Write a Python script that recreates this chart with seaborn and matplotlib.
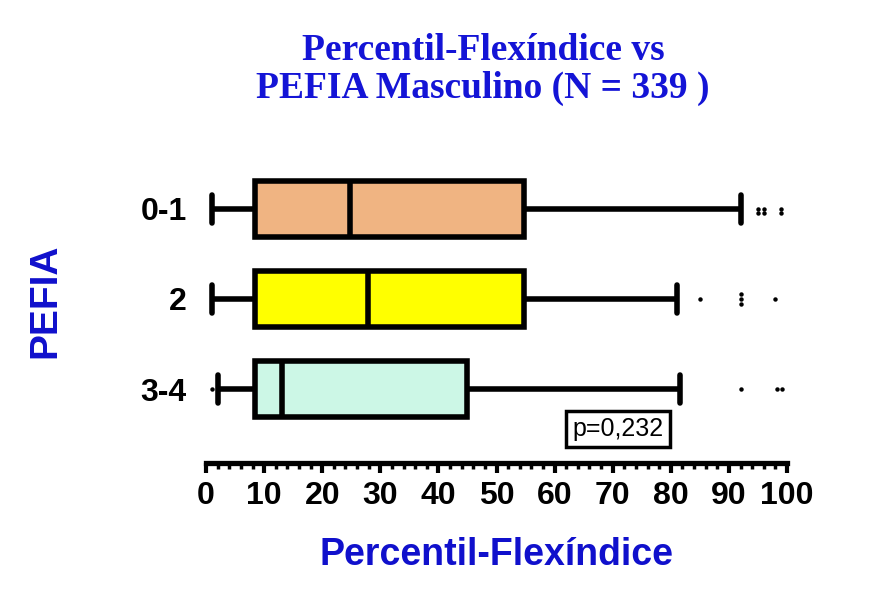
import numpy as np
import pandas as pd
import matplotlib
matplotlib.use("Agg")
import matplotlib.pyplot as plt
from matplotlib.ticker import MultipleLocator
import seaborn as sns

# Five-number summaries per PEFIA group (whisker low, Q1, median, Q3, whisker high)
groups = ["0-1", "2", "3-4"]
summary_01 = [1, 8.4, 24.8, 54.7, 92]
summary_2 = [1, 8.4, 27.9, 54.7, 81]
summary_34 = [2, 8.4, 13, 45, 81.6]

# Outliers
outliers_01 = [95, 95, 96, 96, 99, 99]
outliers_2 = [85, 92, 92, 92, 98]
outliers_34 = [1, 92, 98.3, 99.2]

box_colors = ["#F0B482", "#FFFF00", "#CCF7E6"]
title_blue = "#1414D6"
label_blue = "#1010CC"

sns.set_style("white")
plt.rcParams["font.family"] = ["Liberation Sans", "DejaVu Sans"]
plt.rcParams["text.color"] = "black"
plt.rcParams["xtick.color"] = "black"
plt.rcParams["ytick.color"] = "black"

box_df = pd.DataFrame({
    "PEFIA": np.repeat(groups, 5),
    "valor": summary_01 + summary_2 + summary_34,
})
out_df = pd.DataFrame({
    "PEFIA": ["0-1"] * len(outliers_01) + ["2"] * len(outliers_2) + ["3-4"] * len(outliers_34),
    "valor": outliers_01 + outliers_2 + outliers_34,
})

fig = plt.figure(figsize=(8.85, 5.93), dpi=100)
ax = fig.add_axes([0.2328, 0.2192, 0.6565, 0.52])

sns.boxplot(data=box_df, x="valor", y="PEFIA", order=groups, hue="PEFIA",
            palette=box_colors, saturation=1, whis=(0, 100), showfliers=False,
            width=0.62, linewidth=4, linecolor="black", legend=False, ax=ax)
sns.swarmplot(data=out_df, x="valor", y="PEFIA", order=groups, color="black",
              size=3.2, ax=ax)

ax.set_xlim(0, 100)
ax.set_ylim(2.82, -0.6)
ax.xaxis.set_major_locator(MultipleLocator(10))
ax.xaxis.set_minor_locator(MultipleLocator(2))
ax.tick_params(axis="x", which="major", direction="out", length=7, width=3,
               labelsize=23, pad=6, bottom=True, colors="black")
ax.tick_params(axis="x", which="minor", direction="out", length=4, width=2.5,
               bottom=True, colors="black")
ax.tick_params(axis="y", length=0, labelsize=23, pad=14, colors="black")
for lab in ax.get_xticklabels() + ax.get_yticklabels():
    lab.set_fontweight("bold")

for s in ["top", "right", "left"]:
    ax.spines[s].set_visible(False)
ax.spines["bottom"].set_linewidth(3.8)
ax.spines["bottom"].set_color("black")

ax.set_xlabel("Percentil-Flexíndice", fontsize=27, fontweight="bold",
              color=label_blue, va="center")
ax.xaxis.set_label_coords(0.5, -0.298)
ax.set_ylabel("PEFIA", fontsize=28, fontweight="bold", color=label_blue,
              va="center")
ax.yaxis.set_label_coords(-0.277, 0.526)

ax.text(70.9, 2.44, "p=0,232", fontsize=18, ha="center", va="center",
        color="black",
        bbox=dict(boxstyle="square,pad=0.25", fc="white", ec="black", lw=2.5))

fig.text(0.546, 0.883, "Percentil-Flexíndice vs\nPEFIA Masculino (N = 339 )",
         ha="center", va="center", fontsize=27, fontweight="bold",
         color=title_blue, family=["Liberation Serif", "DejaVu Serif"],
         linespacing=1.1)

fig.savefig("out.png", dpi=100, facecolor="white")
